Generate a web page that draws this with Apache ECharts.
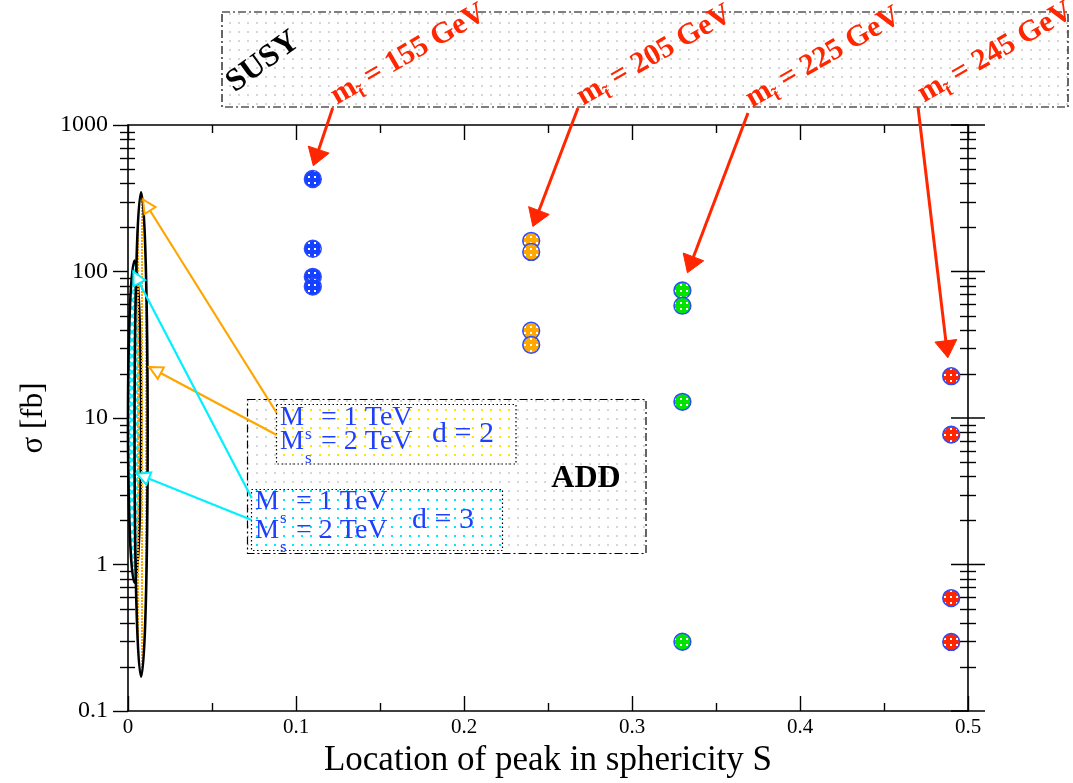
<!DOCTYPE html>
<html><head><meta charset="utf-8">
<script src="https://cdn.jsdelivr.net/npm/echarts@6/dist/echarts.min.js"></script>
<style>html,body{margin:0;padding:0;background:#fff}#c{width:1073px;height:783px}</style>
</head><body><div id="c"></div>
<script>
// ---------------- data ----------------
const blueS = [0.11, 0.11, 0.11, 0.11];
const blueSigma = [428, 143, 92, 79];
const orangeS = [0.24, 0.24, 0.24, 0.24];
const orangeSigma = [162, 136, 39.4, 31.6];
const greenS = [0.33, 0.33, 0.33, 0.33];
const greenSigma = [74.3, 58.4, 12.9, 0.297];
const redS = [0.49, 0.49, 0.49, 0.49];
const redSigma = [19.3, 7.7, 0.59, 0.296];
const xTickLabels = ['0', '0.1', '0.2', '0.3', '0.4', '0.5'];
const yTickLabels = ['0.1', '1', '10', '100', '1000'];
// ADD regions: [S centre, S half-width, sigma top, sigma bottom]
const ellipseD2 = [0.0078, 0.0039, 347, 0.172];
const ellipseD3 = [0.0039, 0.0039, 119, 0.75];
// arrow tips (S, sigma)
const stopArrowTips = [[0.1103, 527], [0.241, 203], [0.333, 98], [0.488, 25.8]];
const stopMasses = ['155', '205', '225', '245'];
const addArrowTips = [[0.009, 310], [0.0127, 22.3], [0.0032, 100], [0.0052, 4.17]];

// ---------------- layout / style ----------------
const SERIF = 'Liberation Serif';
const RED = '#ff2600', ORANGE = '#ffa500', CYAN = '#00f0ff', BLUETXT = '#1f3fff';
const stopTails = [[332.7, 108], [578, 108], [748, 113], [918, 107]];
const stopLabelPos = [[341, 112], [587, 113], [756, 115], [928, 110]];
const addTails = [[276.7, 413], [276.7, 435], [251.7, 498], [251.7, 520]];
const addColors = [ORANGE, ORANGE, CYAN, CYAN];

function makeCanvas(w, h, draw) {
  const c = document.createElement('canvas'); c.width = w; c.height = h;
  draw(c.getContext('2d'), w, h); return c;
}
function pat(c) { return { image: c, repeat: 'repeat' }; }
function markerFill(bg) {
  return pat(makeCanvas(6, 6, (g) => { g.fillStyle = bg; g.fillRect(0, 0, 6, 6); g.fillStyle = '#fff'; g.fillRect(2, 2, 2, 2); }));
}
function dotFill(bg, dot, step, ds) {
  return pat(makeCanvas(step, step, (g) => { if (bg) { g.fillStyle = bg; g.fillRect(0, 0, step, step); } g.fillStyle = dot; g.fillRect(Math.floor(step / 2), Math.floor(step / 2), ds, ds); }));
}
const orangeEllFill = pat(makeCanvas(4, 3, (g) => { g.fillStyle = ORANGE; g.fillRect(1, 0, 2, 2); }));
const cyanEllFill = pat(makeCanvas(8, 8, (g) => { g.fillStyle = '#fff'; g.fillRect(0,0,8,8); g.strokeStyle = CYAN; g.lineWidth = 1.8; g.beginPath(); g.moveTo(0, 0); g.lineTo(8, 8); g.moveTo(8, 0); g.lineTo(0, 8); g.stroke(); }));

const minorVals = [];
for (let e = -1; e < 3; e++) for (let m = 2; m <= 9; m++) minorVals.push(m * Math.pow(10, e));
const majorVals = yTickLabels.map(Number);

function zip(a, b) { return a.map((v, i) => [v, b[i]]); }

function markerSeries(xs, ys, bg) {
  const fill = markerFill(bg);
  return {
    type: 'custom', xAxisIndex: 0, yAxisIndex: 0, z: 5, data: zip(xs, ys),
    renderItem(params, api) {
      const p = api.coord([api.value(0), api.value(1)]);
      return { type: 'circle', shape: { cx: p[0], cy: p[1], r: 8.4 }, style: { fill: fill, stroke: '#2b4cff', lineWidth: 1.5 } };
    }
  };
}

function arrowEl(t, h, color, lw, headLen, headW, filled) {
  const dx = h[0] - t[0], dy = h[1] - t[1];
  const L = Math.hypot(dx, dy), ux = dx / L, uy = dy / L, nx = -uy, ny = ux;
  const bx = h[0] - ux * headLen, by = h[1] - uy * headLen;
  const tri = [[h[0], h[1]], [bx + nx * headW, by + ny * headW], [bx - nx * headW, by - ny * headW]];
  const lineEnd = filled ? [bx + ux * 2, by + uy * 2] : [h[0], h[1]];
  return [
    { type: 'line', shape: { x1: t[0], y1: t[1], x2: lineEnd[0], y2: lineEnd[1] }, style: { stroke: color, lineWidth: lw } },
    { type: 'polygon', shape: { points: tri }, style: filled ? { fill: color, stroke: color, lineWidth: 1 } : { fill: '#fff', stroke: color, lineWidth: 2 } }
  ];
}

const axisLineStyle = { onZero: false, lineStyle: { color: '#000', width: 1.6 } };

const option = {
  animation: false,
  backgroundColor: '#fff',
  grid: { left: 128, right: 105, top: 125, bottom: 72, containLabel: false },
  xAxis: [
    {
      type: 'value', min: 0, max: 0.5, interval: 0.1, position: 'bottom',
      axisLine: axisLineStyle,
      axisTick: { inside: true, length: 15, lineStyle: { color: '#000', width: 1.4 } },
      minorTick: { show: true, splitNumber: 2, length: 8, lineStyle: { color: '#000', width: 1.4 } },
      splitLine: { show: false },
      axisLabel: { fontFamily: SERIF, fontSize: 21, color: '#000', margin: 6, formatter: (v) => xTickLabels[Math.round(v * 10)] },
      name: 'Location of peak in sphericity S', nameLocation: 'middle', nameGap: 23,
      nameTextStyle: { fontFamily: SERIF, fontSize: 35, color: '#000' }
    },
    {
      type: 'value', min: 0, max: 0.5, interval: 0.1, position: 'top',
      axisLine: axisLineStyle,
      axisTick: { inside: true, length: 15, lineStyle: { color: '#000', width: 1.4 } },
      minorTick: { show: true, splitNumber: 2, length: 8, lineStyle: { color: '#000', width: 1.4 } },
      splitLine: { show: false }, axisLabel: { show: false }
    }
  ],
  yAxis: [
    {
      type: 'log', logBase: 10, min: 0.1, max: 1000, position: 'left',
      axisLine: axisLineStyle,
      axisTick: { inside: false, length: 15, lineStyle: { color: '#000', width: 1.4 } },
      splitLine: { show: false },
      axisLabel: { fontFamily: SERIF, fontSize: 24, color: '#000', margin: 20,
        formatter: (v) => { const s = String(parseFloat(Number(v).toPrecision(4))); return yTickLabels.indexOf(s) >= 0 ? s : ''; } },
      name: 'σ [fb]', nameLocation: 'middle', nameGap: 74,
      nameTextStyle: { fontFamily: SERIF, fontSize: 31, color: '#000' }
    },
    {
      type: 'log', logBase: 10, min: 0.1, max: 1000, position: 'right',
      axisLine: axisLineStyle,
      axisTick: { show: false }, axisLabel: { show: false }, splitLine: { show: false }
    }
  ],
  graphic: [
    // SUSY box
    { type: 'rect', z: 0, shape: { x: 222, y: 12, width: 846, height: 95 },
      style: { fill: dotFill('#fff', '#d6d6d6', 9, 2), stroke: '#000', lineWidth: 1.2, lineDash: [8, 3, 2, 3] } },
    { type: 'text', z: 1, x: 263, y: 62, rotation: 36 * Math.PI / 180,
      style: { text: 'SUSY', fontFamily: SERIF, fontWeight: 'bold', fontSize: 32, fill: '#000', textAlign: 'center', textVerticalAlign: 'middle' } },
    // ADD box
    { type: 'rect', z: 0, shape: { x: 247.5, y: 399.5, width: 398.5, height: 154 },
      style: { fill: dotFill('#fff', '#d6d6d6', 9, 2), stroke: '#000', lineWidth: 1.2, lineDash: [8, 3, 2, 3] } },
    { type: 'rect', z: 1, shape: { x: 276.5, y: 404.5, width: 239.5, height: 59.5 },
      style: { fill: dotFill('#fff', '#ffe800', 9, 2), stroke: '#000', lineWidth: 1.2, lineDash: [1.5, 2.5] } },
    { type: 'rect', z: 1, shape: { x: 251.5, y: 489.5, width: 251, height: 61 },
      style: { fill: dotFill('#fff', '#00e8ff', 9, 2), stroke: '#000', lineWidth: 1.2, lineDash: [1.5, 2.5] } },
    { type: 'text', z: 2, x: 586, y: 479,
      style: { text: 'ADD', fontFamily: SERIF, fontWeight: 'bold', fontSize: 32, fill: '#000', textAlign: 'center', textVerticalAlign: 'middle' } }
  ],
  series: [
    // minor/major log ticks on both y axes
    {
      type: 'custom', xAxisIndex: 0, yAxisIndex: 0, z: 3, silent: true, data: [[0, 1]],
      renderItem(params, api) {
        const xl = api.coord([0, 1])[0], xr = api.coord([0.5, 1])[0];
        const ch = [];
        const ln = (x1, y, x2) => ({ type: 'line', shape: { x1, y1: y, x2, y2: y }, style: { stroke: '#000', lineWidth: 1.4 } });
        minorVals.forEach((v) => { const y = Math.round(api.coord([0, v])[1]) + 0.5; ch.push(ln(xl - 8, y, xl + 7)); ch.push(ln(xr - 8, y, xr + 8)); });
        majorVals.forEach((v) => { const y = api.coord([0, v])[1]; ch.push(ln(xr - 17, y, xr + 17)); });
        return { type: 'group', children: ch };
      }
    },
    // ADD ellipses (d=3 first, d=2 on top)
    {
      type: 'custom', xAxisIndex: 0, yAxisIndex: 0, z: 4, silent: true,
      data: [ellipseD3, ellipseD2], encode: { x: 0, y: 2 },
      renderItem(params, api) {
        const xc = api.value(0), hw = api.value(1), top = api.value(2), bot = api.value(3);
        const p1 = api.coord([xc - hw, top]), p2 = api.coord([xc + hw, bot]);
        return { type: 'ellipse', shape: { cx: (p1[0] + p2[0]) / 2, cy: (p1[1] + p2[1]) / 2, rx: (p2[0] - p1[0]) / 2, ry: (p2[1] - p1[1]) / 2 },
          style: { fill: params.dataIndex === 1 ? orangeEllFill : cyanEllFill, stroke: '#000', lineWidth: 2.6 } };
      }
    },
    markerSeries(blueS, blueSigma, '#1440ff'),
    markerSeries(orangeS, orangeSigma, '#ffa800'),
    markerSeries(greenS, greenSigma, '#00e400'),
    markerSeries(redS, redSigma, '#ff2600'),
    // stop-mass arrows
    {
      type: 'custom', xAxisIndex: 0, yAxisIndex: 0, z: 8, silent: true, clip: false, data: stopArrowTips,
      renderItem(params, api) {
        const h = api.coord([api.value(0), api.value(1)]);
        return { type: 'group', children: arrowEl(stopTails[params.dataIndex], h, RED, 3, 17, 11, true) };
      }
    },
    // ADD arrows
    {
      type: 'custom', xAxisIndex: 0, yAxisIndex: 0, z: 8, silent: true, clip: false, data: addArrowTips,
      renderItem(params, api) {
        const h = api.coord([api.value(0), api.value(1)]);
        return { type: 'group', children: arrowEl(addTails[params.dataIndex], h, addColors[params.dataIndex], 2.2, 13, 6.5, false) };
      }
    }
  ]
};

// stop-mass labels
stopMasses.forEach((m, i) => {
  option.graphic.push({
    type: 'text', z: 3, x: stopLabelPos[i][0], y: stopLabelPos[i][1], rotation: 30 * Math.PI / 180,
    style: {
      text: '{m|m}{s|t̃}{t| = ' + m + ' GeV}', textAlign: 'left', textVerticalAlign: 'bottom',
      rich: {
        m: { fontFamily: SERIF, fontWeight: 'bold', fontSize: 30, fill: RED, lineHeight: 32 },
        s: { fontFamily: SERIF, fontWeight: 'bold', fontSize: 18, fill: RED, lineHeight: 18, padding: [20, 0, 0, 0] },
        t: { fontFamily: SERIF, fontWeight: 'bold', fontSize: 30, fill: RED, lineHeight: 32 }
      }
    }
  });
});

// ADD legend texts
function msLine(x, yc, val) {
  option.graphic.push({ type: 'text', z: 3, x: x, y: yc, style: { text: 'M', fontFamily: SERIF, fontSize: 27, fill: BLUETXT, textVerticalAlign: 'middle' } });
  option.graphic.push({ type: 'text', z: 3, x: x + 25, y: yc + 17, style: { text: 's', fontFamily: SERIF, fontSize: 17, fill: BLUETXT, textVerticalAlign: 'middle' } });
  option.graphic.push({ type: 'text', z: 3, x: x + 41, y: yc, style: { text: '= ' + val + ' TeV', fontFamily: SERIF, fontSize: 28, fill: BLUETXT, textVerticalAlign: 'middle' } });
}
msLine(280, 418, 1); msLine(280, 442, 2);
msLine(255, 502, 1); msLine(255, 531, 2);
option.graphic.push({ type: 'text', z: 3, x: 432, y: 434, style: { text: 'd = 2', fontFamily: SERIF, fontSize: 30, fill: BLUETXT, textVerticalAlign: 'middle' } });
option.graphic.push({ type: 'text', z: 3, x: 412, y: 520, style: { text: 'd = 3', fontFamily: SERIF, fontSize: 30, fill: BLUETXT, textVerticalAlign: 'middle' } });

const chart = echarts.init(document.getElementById('c'), null, { renderer: 'canvas' });
chart.setOption(option);
</script>
</body></html>
